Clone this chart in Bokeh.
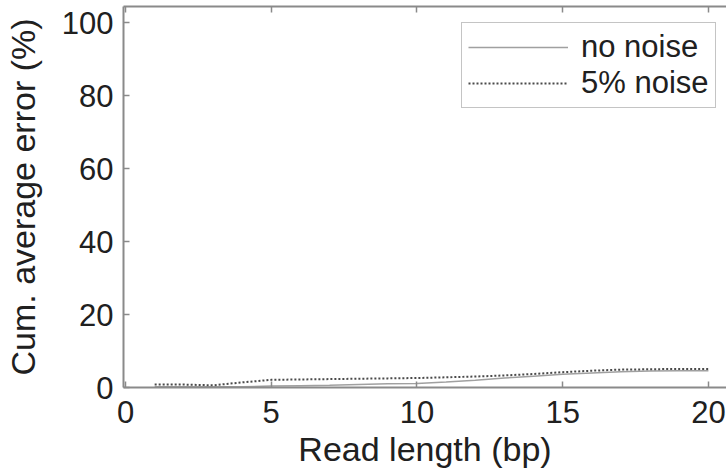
from bokeh.plotting import figure
from bokeh.models import LinearAxis, Range1d, FixedTicker, Legend, LegendItem, CustomJSTickFormatter
from bokeh.embed import file_html
from bokeh.resources import INLINE

read_length = [1, 2, 3, 4, 5, 6, 7, 8, 9, 10, 11, 12, 13, 14, 15, 16, 17, 18, 19, 20]
no_noise = [0.2, 0.2, 0.2, 0.2, 0.4, 0.5, 0.6, 0.8, 1.0, 1.1, 1.5, 2.0, 2.6, 3.1, 3.6, 4.0, 4.3, 4.5, 4.6, 4.6]
noise_5 = [0.8, 0.8, 0.6, 1.4, 2.1, 2.2, 2.3, 2.4, 2.5, 2.6, 2.8, 3.0, 3.3, 3.7, 4.2, 4.6, 4.9, 5.0, 5.1, 5.1]
x_ticks = [0, 5, 10, 15, 20]
y_ticks = [0, 20, 40, 60, 80, 100]
series_labels = ["no noise", "5% noise"]

FONT = "Liberation Sans"
AX = "#8a8a8a"
TXT = "#202020"

p = figure(width=726, height=475, output_backend="svg", toolbar_location=None,
           x_range=Range1d(-0.069, 20.62), y_range=Range1d(0, 104.4),
           x_axis_location=None, y_axis_location=None,
           min_border_left=123, min_border_right=0, min_border_top=6, min_border_bottom=88)
p.xgrid.visible = False
p.ygrid.visible = False
p.outline_line_color = None
p.background_fill_color = "white"
p.border_fill_color = "white"

def style(ax, labels=True):
    ax.axis_line_color = AX
    ax.axis_line_width = 2
    ax.major_tick_line_color = AX
    ax.major_tick_line_width = 1.5
    ax.major_tick_in = 6
    ax.major_tick_out = 0
    ax.minor_tick_line_color = None
    ax.major_label_text_font = FONT
    ax.major_label_text_color = TXT
    ax.axis_label_text_font = FONT
    ax.axis_label_text_color = TXT
    ax.axis_label_text_font_style = "normal"
    if labels:
        ax.major_label_text_font_size = "31px"
        ax.axis_label_text_font_size = "34px"
    else:
        ax.formatter = CustomJSTickFormatter(code="return '';")
        ax.major_label_text_font_size = "0px"
        ax.major_label_standoff = 0

xb = LinearAxis(ticker=FixedTicker(ticks=x_ticks), axis_label="Read length (bp)")
style(xb)
xb.major_label_standoff = 13
xb.axis_label_standoff = 4
p.add_layout(xb, "below")

xt = LinearAxis(ticker=FixedTicker(ticks=x_ticks))
style(xt, labels=False)
p.add_layout(xt, "above")

yl = LinearAxis(ticker=FixedTicker(ticks=y_ticks), axis_label="Cum. average error (%)")
style(yl)
yl.major_label_standoff = 10
yl.axis_label_standoff = 17
p.add_layout(yl, "left")

r1 = p.line(read_length, no_noise, line_color="#a0a0a0", line_width=1.5)
r2 = p.line(read_length, noise_5, line_color="#4a4a4a", line_width=2, line_dash="2 2")

legend = Legend(items=[LegendItem(label=series_labels[0], renderers=[r1]),
                       LegendItem(label=series_labels[1], renderers=[r2])],
                location=(338, 279))
legend.label_text_font = FONT
legend.label_text_font_size = "31px"
legend.label_text_color = TXT
legend.glyph_width = 100
legend.glyph_height = 36
legend.label_height = 36
legend.label_standoff = 13
legend.padding = 6
legend.spacing = 0
legend.margin = 0
legend.border_line_color = AX
legend.border_line_width = 1.5
legend.background_fill_color = "white"
legend.background_fill_alpha = 1
p.add_layout(legend, "center")

open("out.html", "w").write(file_html(p, INLINE))
